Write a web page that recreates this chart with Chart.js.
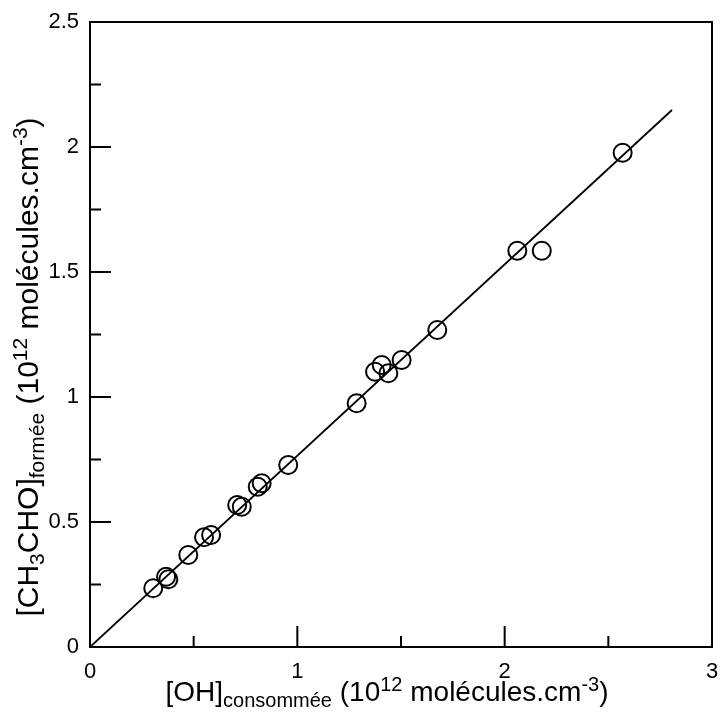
<!DOCTYPE html>
<html>
<head>
<meta charset="utf-8">
<script src="https://cdn.jsdelivr.net/npm/chart.js@4.4.1/dist/chart.umd.min.js"></script>
<style>
  html, body { margin: 0; padding: 0; background: #fff; }
  canvas { display: block; }
</style>
</head>
<body>
<canvas id="chart" width="720" height="713"></canvas>
<script>
// Measured points: [OH] consumed vs [CH3CHO] formed (10^12 molecules/cm3)
const ohConsumed = [0.305, 0.367, 0.378, 0.474, 0.550, 0.584, 0.710, 0.732, 0.809, 0.828,
                    0.956, 1.286, 1.375, 1.407, 1.439, 1.503, 1.675, 2.061, 2.179, 2.569];
const ch3choFormed = [0.235, 0.281, 0.271, 0.368, 0.439, 0.448, 0.568, 0.561, 0.641, 0.655,
                      0.728, 0.975, 1.101, 1.128, 1.095, 1.148, 1.268, 1.585, 1.585, 1.977];

// Fitted line end points
const fitX = [0, 2.807];
const fitY = [0, 2.148];

// Axis ticks
const xTicks = [0, 1, 2, 3];
const xMinorTicks = [0.5, 1.5, 2.5];
const yTicks = [0, 0.5, 1, 1.5, 2, 2.5];
const yMinorTicks = [0.25, 0.75, 1.25, 1.75, 2.25];

const FONT = '"Liberation Sans", Arial, sans-serif';

// Axis titles with sub/superscripts: [text, mode]
const xTitle = [['[OH]', 'n'], ['consommée', 'sub'], [' (10', 'n'], ['12', 'sup'],
                [' molécules.cm', 'n'], ['-3', 'sup'], [')', 'n']];
const yTitle = [['[CH', 'n'], ['3', 'sub'], ['CHO]', 'n'], ['formée', 'sub'], [' (10', 'n'],
                ['12', 'sup'], [' molécules.cm', 'n'], ['-3', 'sup'], [')', 'n']];

function drawRich(ctx, parts, size, small) {
    let total = 0;
    parts.forEach(([t, m]) => {
        ctx.font = (m === 'n' ? size : small) + 'px ' + FONT;
        total += ctx.measureText(t).width;
    });
    let x = -total / 2;
    parts.forEach(([t, m]) => {
        ctx.font = (m === 'n' ? size : small) + 'px ' + FONT;
        let dy = 0;
        if (m === 'sub') dy = size * 0.2;
        if (m === 'sup') dy = -size * 0.36;
        ctx.fillText(t, x, dy);
        x += ctx.measureText(t).width;
    });
}

const framePlugin = {
    id: 'frame',
    afterDraw(chart) {
        const {ctx, chartArea: a, scales: {x, y}} = chart;
        ctx.save();
        ctx.strokeStyle = '#000';
        ctx.lineWidth = 2;
        ctx.strokeRect(a.left, a.top, a.right - a.left, a.bottom - a.top);
        ctx.beginPath();
        xTicks.forEach(v => { const p = x.getPixelForValue(v); ctx.moveTo(p, a.bottom); ctx.lineTo(p, a.bottom - 21); });
        xMinorTicks.forEach(v => { const p = x.getPixelForValue(v); ctx.moveTo(p, a.bottom); ctx.lineTo(p, a.bottom - 11); });
        yTicks.forEach(v => { const p = y.getPixelForValue(v); ctx.moveTo(a.left, p); ctx.lineTo(a.left + 21, p); });
        yMinorTicks.forEach(v => { const p = y.getPixelForValue(v); ctx.moveTo(a.left, p); ctx.lineTo(a.left + 11, p); });
        ctx.stroke();

        ctx.fillStyle = '#000';
        ctx.textBaseline = 'alphabetic';
        ctx.textAlign = 'left';
        ctx.save();
        ctx.translate(387, 701);
        drawRich(ctx, xTitle, 28, 20);
        ctx.restore();
        ctx.save();
        ctx.translate(38, 367);
        ctx.rotate(-Math.PI / 2);
        drawRich(ctx, yTitle, 30, 21);
        ctx.restore();
        ctx.restore();
    }
};

new Chart(document.getElementById('chart'), {
    type: 'scatter',
    data: {
        datasets: [{
            data: ohConsumed.map((v, i) => ({ x: v, y: ch3choFormed[i] })),
            pointStyle: 'circle',
            pointRadius: 9,
            pointBorderWidth: 2,
            pointBorderColor: '#000',
            pointBackgroundColor: 'rgba(0,0,0,0)'
        }, {
            data: fitX.map((v, i) => ({ x: v, y: fitY[i] })),
            showLine: true,
            borderColor: '#000',
            borderWidth: 1.8,
            pointRadius: 0
        }]
    },
    options: {
        responsive: false,
        animation: false,
        layout: { autoPadding: false, padding: { left: 0, right: 8, top: 22, bottom: 0 } },
        plugins: { legend: { display: false }, tooltip: { enabled: false } },
        scales: {
            x: {
                type: 'linear', min: 0, max: 3,
                afterBuildTicks: s => { s.ticks = xTicks.map(v => ({ value: v })); },
                afterFit: s => { s.height = 66; s.paddingLeft = 0; s.paddingRight = 0; },
                grid: { display: false, drawTicks: false },
                border: { display: false },
                ticks: { color: '#000', padding: 12, font: { family: FONT, size: 22 }, maxRotation: 0,
                         callback: v => String(v) }
            },
            y: {
                type: 'linear', min: 0, max: 2.5,
                afterBuildTicks: s => { s.ticks = yTicks.map(v => ({ value: v })); },
                afterFit: s => { s.width = 90; s.paddingTop = 0; s.paddingBottom = 0; },
                grid: { display: false, drawTicks: false },
                border: { display: false },
                ticks: { color: '#000', padding: 11, font: { family: FONT, size: 22 },
                         callback: v => String(v) }
            }
        }
    },
    plugins: [framePlugin]
});
</script>
</body>
</html>
